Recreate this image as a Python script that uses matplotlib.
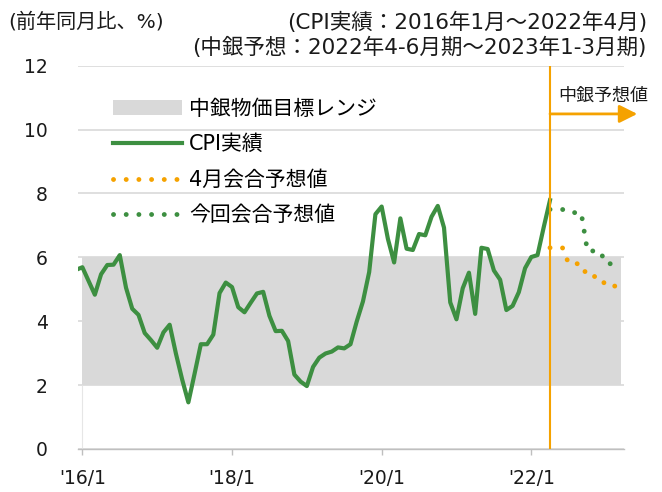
import matplotlib

matplotlib.use("Agg")
import numpy as np
import matplotlib.pyplot as plt
from matplotlib.lines import Line2D
from matplotlib.patches import Patch

plt.rcParams["font.family"] = ["DejaVu Sans", "Noto Sans CJK JP"]

# 月次CPI（前年同月比、%）。先頭は2015/12で、左端で切れる
cpi_first_month = -1  # 0 = 2016年1月
cpi_values = [
    5.61,
    5.69, 5.26, 4.83, 5.47, 5.76, 5.77, 6.07, 5.05, 4.39, 4.20, 3.63, 3.41,
    3.17, 3.65, 3.89, 2.99, 2.18, 1.46, 2.36, 3.28, 3.28, 3.58, 4.88, 5.21,
    5.07, 4.44, 4.28, 4.58, 4.87, 4.92, 4.17, 3.69, 3.70, 3.38, 2.33, 2.11,
    1.97, 2.57, 2.86, 2.99, 3.05, 3.18, 3.15, 3.28, 3.99, 4.62, 5.54, 7.35,
    7.59, 6.58, 5.84, 7.22, 6.27, 6.23, 6.73, 6.69, 7.27, 7.61, 6.93, 4.59,
    4.06, 5.03, 5.52, 4.23, 6.30, 6.26, 5.59, 5.30, 4.35, 4.48, 4.91, 5.66,
    6.01, 6.07, 6.95, 7.79,
]

# 中銀予想（四半期、2022年4-6月期～2023年1-3月期）
forecast_quarters = ["22/4-6", "22/7-9", "22/10-12", "23/1-3"]
forecast_first_month = 75  # 2022年4月
forecast_april = [6.3, 5.8, 5.4, 5.1]
forecast_june = [7.5, 7.4, 6.2, 5.8]

# 物価目標レンジ
target_low = 2
target_high = 6

x_tick_months = [0, 24, 48, 72]
x_tick_labels = ["'16/1", "'18/1", "'20/1", "'22/1"]
y_ticks = [0, 2, 4, 6, 8, 10, 12]

GREEN = "#3d8f41"
ORANGE = "#f5a200"
BAND = "#d9d9d9"
TEXT = "#1a1a1a"

fig = plt.figure(figsize=(6.62, 4.92), dpi=100)
ax = fig.add_axes([0.1183, 0.0874, 0.8246, 0.7791])

x_left, x_right = -0.65, 86.9
band_end = 86.4

# 目標レンジ
ax.fill_between([0, band_end], target_low, target_high, color=BAND, lw=0, zorder=1)
ax.vlines(0, 0, target_low, color="#e6e6e6", lw=0.8, zorder=0.8)

# 実績
cpi_x = np.arange(len(cpi_values)) + cpi_first_month
ax.plot(cpi_x, cpi_values, color=GREEN, lw=3, solid_joinstyle="round", zorder=3)

# 予想（各四半期の値を3か月分並べる）
fc_x = forecast_first_month + np.arange(3 * len(forecast_quarters))
dotted = (0, (0.01, 2.6))
ax.plot(fc_x, np.repeat(forecast_april, 3), color=ORANGE, lw=3.5, ls=dotted,
        dash_capstyle="round", zorder=3)
ax.plot(fc_x, np.repeat(forecast_june, 3), color=GREEN, lw=3.5, ls=dotted,
        dash_capstyle="round", zorder=3)

ax.axvline(forecast_first_month, color=ORANGE, lw=1.5, zorder=4)
ax.annotate("", xy=(89.0, 10.49), xytext=(forecast_first_month, 10.49),
            arrowprops=dict(arrowstyle="-|>,head_length=0.6,head_width=0.3",
                            color=ORANGE, lw=2, mutation_scale=18,
                            shrinkA=0, shrinkB=0),
            annotation_clip=False, zorder=4)
ax.text(83.5, 11.06, "中銀予想値", ha="center", va="center", fontsize=13,
        color=TEXT, clip_on=False)

ax.set_xlim(x_left, x_right)
ax.set_ylim(0, 12)
ax.set_xticks(x_tick_months, x_tick_labels)
ax.set_yticks(y_ticks)
ax.yaxis.grid(True, color=BAND, lw=1.2)
ax.set_axisbelow(True)

for side in ["top", "right", "left"]:
    ax.spines[side].set_visible(False)
ax.spines["bottom"].set_color("#bfbfbf")
ax.spines["bottom"].set_linewidth(1)
ax.tick_params(axis="x", length=4.3, width=1, color="#bfbfbf", pad=10,
               labelsize=13.5, labelcolor=TEXT)
ax.tick_params(axis="y", length=0, pad=22, labelsize=13.5, labelcolor=TEXT)

handles = [
    Patch(facecolor=BAND, edgecolor="none", label="中銀物価目標レンジ"),
    Line2D([], [], color=GREEN, lw=3, label="CPI実績"),
    Line2D([], [], color=ORANGE, lw=3.5, ls=dotted, dash_capstyle="round",
           label="4月会合予想値"),
    Line2D([], [], color=GREEN, lw=3.5, ls=dotted, dash_capstyle="round",
           label="今回会合予想値"),
]
fig.legend(handles=handles, loc="upper left", bbox_to_anchor=(113 / 662, 1 - 99 / 492),
           frameon=False, fontsize=15, handlelength=3.3, handletextpad=0.35,
           labelspacing=0.74, borderpad=0, borderaxespad=0)

fig.text(8 / 662, 1 - 22 / 492, "(前年同月比、%)", ha="left", va="center",
         fontsize=14.5, color=TEXT)
fig.text(647 / 662, 1 - 22 / 492, "(CPI実績：2016年1月～2022年4月)", ha="right",
         va="center", fontsize=15.5, color=TEXT)
fig.text(647 / 662, 1 - 47 / 492, "(中銀予想：2022年4-6月期～2023年1-3月期)",
         ha="right", va="center", fontsize=15.5, color=TEXT)

fig.savefig("out.png", dpi=100, facecolor="white")
